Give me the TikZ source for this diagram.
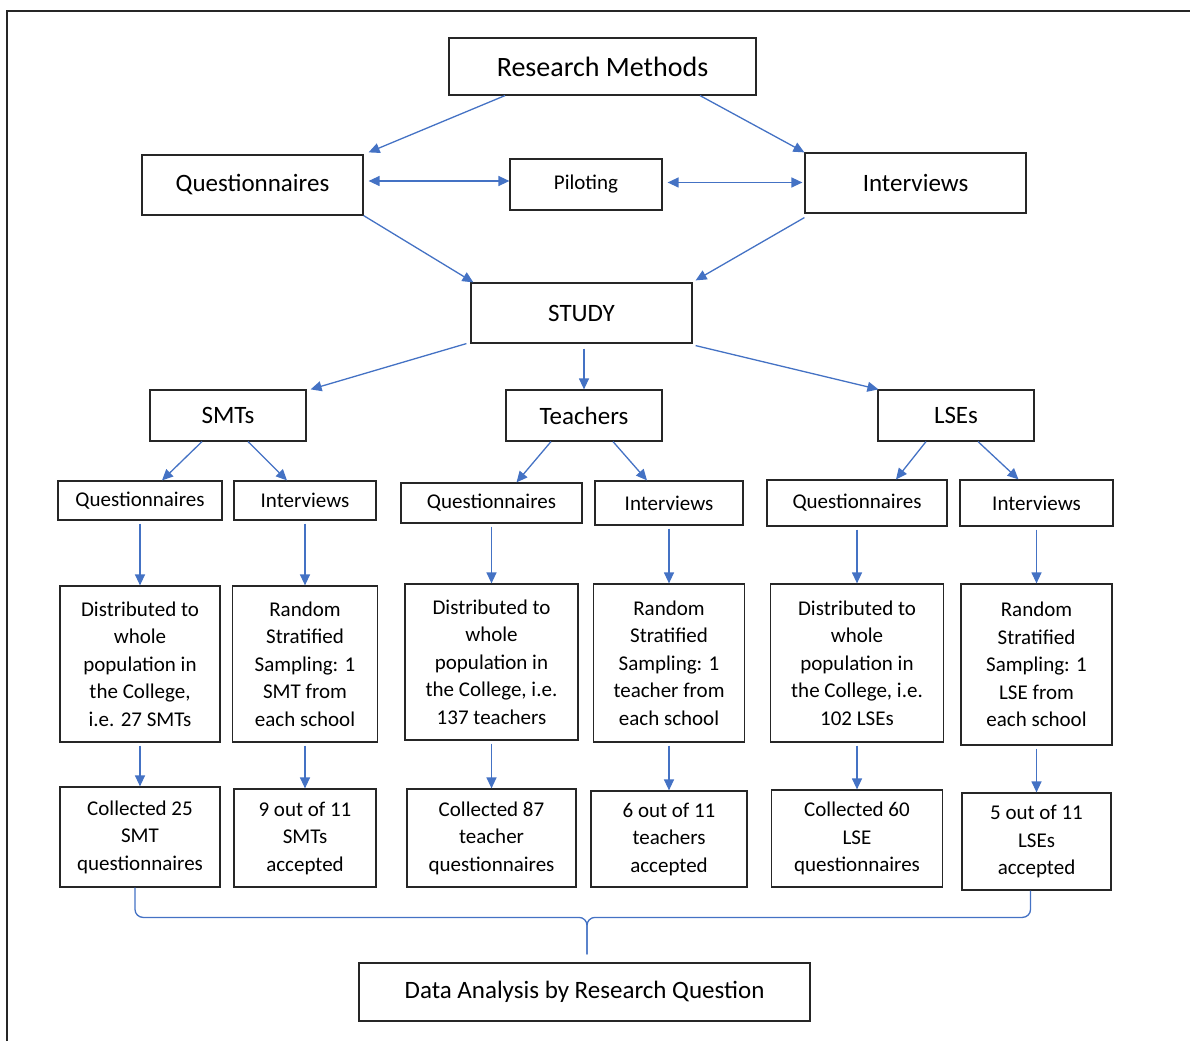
\documentclass[tikz,border=0pt]{standalone}
\usepackage{fontspec}
\setmainfont{Carlito}
\usetikzlibrary{arrows.meta,positioning}
\definecolor{arrowblue}{HTML}{4472C4}
\definecolor{boxgray}{HTML}{262626}

\tikzset{
  box/.style={rectangle, draw=boxgray, line width=1.2pt, align=center, inner sep=2pt, font=\fontsize{21}{27.5}\selectfont},
  headbox/.style={box, font=\fontsize{25}{30}\selectfont},
  link/.style={draw=arrowblue, line width=1.3pt, -{Triangle[length=11pt,width=10pt]}},
  twoway/.style={link, {Triangle[length=11pt,width=10pt]}-{Triangle[length=11pt,width=10pt]}},
  brace/.style={draw=arrowblue, line width=1.3pt, rounded corners=8pt}
}

\begin{document}
\begin{tikzpicture}[x=1pt, y=1pt, node distance=160pt]
    \useasboundingbox (0,0) rectangle (1190,1041);
    \draw[boxgray, line width=2pt] (7,0) |- (1190,1030);

    % top part
    \node (rm) [box, font=\fontsize{28}{33}\selectfont, minimum width=307pt, minimum height=57pt] at (602.5,974.5) {Research Methods};
    \node (qtop) [headbox, minimum width=221pt, minimum height=60pt] at (252.5,856) {Questionnaires};
    \node (pilot) [box, minimum width=152pt, minimum height=51pt] at (586,856.5) {Piloting};
    \node (itop) [headbox, minimum width=221pt, minimum height=60pt] at (915.5,858) {Interviews};
    \node (study) [headbox, minimum width=221pt, minimum height=60pt] at (581.5,728) {STUDY};

    % groups
    \node (smt) [headbox, minimum width=156pt, minimum height=51pt] at (228,625.5) {SMTs};
    \node (teach) [headbox, minimum width=156pt, minimum height=51pt] at (584,625.5) {Teachers};
    \node (lse) [headbox, minimum width=156pt, minimum height=51pt] at (956,625.5) {LSEs};

    \node (sq) [box, minimum width=164pt, minimum height=39pt] at (140,540.5) {Questionnaires};
    \node (si) [box, minimum width=142pt, minimum height=39pt] at (305,540.5) {Interviews};
    \node (tq) [box, minimum width=181pt, minimum height=40pt] at (491.5,538) {Questionnaires};
    \node (ti) [box, minimum width=148pt, minimum height=44pt] at (669,538) {Interviews};
    \node (lq) [box, minimum width=180pt, minimum height=46pt] at (857,538) {Questionnaires};
    \node (li) [box, minimum width=153pt, minimum height=46pt] at (1036.5,538) {Interviews};

    % sampling
    \node (sdist) [box, minimum width=160pt, minimum height=156pt, below of=sq, node distance=163.5pt] {Distributed to\\whole\\population in\\the College,\\i.e. 27 SMTs};
    \node (srand) [box, minimum width=145pt, minimum height=156pt, below of=si, node distance=163.5pt] {Random\\Stratified\\Sampling: 1\\SMT from\\each school};
    \node (tdist) [box, minimum width=173pt, minimum height=156pt, below of=tq, node distance=159pt] {Distributed to\\whole\\population in\\the College, i.e.\\137 teachers};
    \node (trand) [box, minimum width=151pt, minimum height=158pt, below of=ti, node distance=160pt] {Random\\Stratified\\Sampling: 1\\teacher from\\each school};
    \node (ldist) [box, minimum width=173pt, minimum height=158pt, below of=lq, node distance=160pt] {Distributed to\\whole\\population in\\the College, i.e.\\102 LSEs};
    \node (lrand) [box, minimum width=151pt, minimum height=161pt, below of=li, node distance=161.5pt] {Random\\Stratified\\Sampling: 1\\LSE from\\each school};

    % results
    \node (scol) [box, minimum width=160pt, minimum height=100pt, below of=sdist, node distance=173pt] {Collected 25\\SMT\\questionnaires};
    \node (sacc) [box, minimum width=142pt, minimum height=98pt, below of=srand, node distance=174pt] {9 out of 11\\SMTs\\accepted};
    \node (tcol) [box, minimum width=169pt, minimum height=98pt, below of=tdist, node distance=176pt] {Collected 87\\teacher\\questionnaires};
    \node (tacc) [box, minimum width=156pt, minimum height=96pt, below of=trand, node distance=176pt] {6 out of 11\\teachers\\accepted};
    \node (lcol) [box, minimum width=171pt, minimum height=97pt, below of=ldist, node distance=175.5pt] {Collected 60\\LSE\\questionnaires};
    \node (lacc) [box, minimum width=149pt, minimum height=97pt, below of=lrand, node distance=177pt] {5 out of 11\\LSEs\\accepted};

    \node (analysis) [headbox, minimum width=451pt, minimum height=58pt] at (584.5,49) {Data Analysis by Research Question};

    \draw[link] ([xshift=-97.5pt]rm.south) -- ([shift={(5,2)}]qtop.north east);
    \draw[link] ([xshift=97.5pt]rm.south) -- (itop.north west);
    \draw[twoway] ([shift={(5,4)}]qtop.east) -- ([yshift=4pt]qtop.east -| pilot.west);
    \draw[twoway] ([shift={(5,2)}]pilot.east) -- ([shift={(-2,2)}]pilot.east -| itop.west);
    \draw[link] (qtop.south east) -- ([xshift=3pt]study.north west);
    \draw[link] ([yshift=-4pt]itop.south west) -- ([shift={(3,2)}]study.north east);

    \draw[link] ([xshift=-4pt]study.south west) -- ([xshift=4pt]smt.north east);
    \draw[link] ([yshift=-5pt]study.south -| teach.north) -- (teach.north);
    \draw[link] ([shift={(3,-2)}]study.south east) -- ([xshift=1pt]lse.north west);

    \draw[link] ([xshift=-26pt]smt.south) -- ([xshift=22pt]sq.north);
    \draw[link] ([xshift=20pt]smt.south) -- ([xshift=-18pt]si.north);
    \draw[link] ([xshift=-33pt]teach.south) -- ([xshift=25pt]tq.north);
    \draw[link] ([xshift=29pt]teach.south) -- ([xshift=-22pt]ti.north);
    \draw[link] ([xshift=-30pt]lse.south) -- ([xshift=39pt]lq.north);
    \draw[link] ([xshift=22pt]lse.south) -- ([xshift=-18pt]li.north);

    \foreach \a/\b in {sq/sdist, si/srand, tq/tdist, ti/trand, lq/ldist, li/lrand,
                       sdist/scol, srand/sacc, tdist/tcol, trand/tacc, ldist/lcol, lrand/lacc}
        \draw[link, shorten <=3pt] (\a.south) -- (\b.north);

    % bracket
    \coordinate (btip) at ([shift={(2.5,8)}]analysis.north);
    \coordinate (bmid) at ([yshift=37pt]btip);
    \draw[brace] ([xshift=-5pt]scol.south) |- (bmid) -- (btip);
    \draw[brace] ([xshift=-6pt]lacc.south) |- (bmid) -- (btip);
\end{tikzpicture}
\end{document}
